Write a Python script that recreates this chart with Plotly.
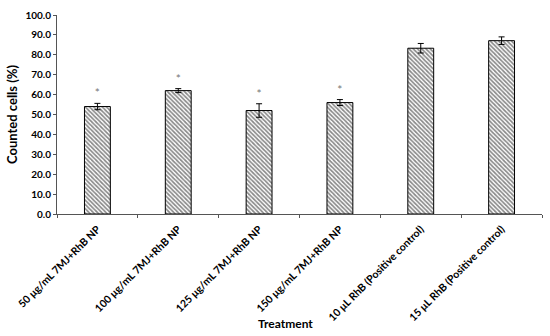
import plotly.graph_objects as go

categories = ["50 μg/mL 7MJ+RhB NP", "100 μg/mL 7MJ+RhB NP", "125 μg/mL 7MJ+RhB NP",
              "150 μg/mL 7MJ+RhB NP", "10 μL RhB (Positive control)", "15 μL RhB (Positive control)"]
values = [54.0, 62.0, 52.0, 56.0, 83.3, 87.1]
errors = [1.6, 1.0, 3.4, 1.5, 2.4, 1.9]
marks = ["*", "*", "*", "*", "", ""]

font = "Lato, 'Open Sans', sans-serif"

fig = go.Figure()
fig.add_trace(go.Bar(
    x=categories, y=values, width=0.32,
    marker=dict(color="white", line=dict(color="black", width=1),
                pattern=dict(shape="\\", fgcolor="#111111", bgcolor="white", size=3, solidity=0.55)),
    error_y=dict(type="data", array=errors, color="black", thickness=1, width=3),
    showlegend=False,
))
fig.add_trace(go.Scatter(
    x=categories, y=[v + e + 1.5 for v, e in zip(values, errors)], mode="text",
    text=marks, textposition="top center",
    textfont=dict(color="#777777", size=12, family=font), showlegend=False,
))
fig.update_layout(
    width=550, height=336, margin=dict(l=57, r=8, t=15, b=122),
    plot_bgcolor="white", paper_bgcolor="white",
    font=dict(family=font, color="black"),
    bargap=0.68,
)
fig.add_annotation(text="<b>Treatment</b>", xref="paper", yref="paper", x=0.471, y=0,
                   xanchor="center", yanchor="middle", yshift=-109, showarrow=False,
                   font=dict(size=12, family=font, color="black"))
fig.update_xaxes(
    showline=True, linecolor="#555555", linewidth=1, tickson="boundaries",
    ticks="outside", ticklen=3, tickcolor="#555555", tickangle=-45, automargin=False,
    tickfont=dict(size=10.5, family=font, weight="bold"), ticklabelstandoff=4,
)
fig.update_yaxes(
    range=[0, 100], dtick=10, tickformat=".1f", showgrid=False, showline=True,
    linecolor="#555555", linewidth=1, ticks="outside", ticklen=3, tickcolor="#555555",
    tickfont=dict(size=10, family=font, weight="bold"), automargin=False,
    title=dict(text="<b>Counted cells (%)</b>", font=dict(size=13), standoff=4),
    zeroline=False,
)
fig.write_html("out.html", config={"displayModeBar": False},
               post_script="document.body.style.margin='0';")
